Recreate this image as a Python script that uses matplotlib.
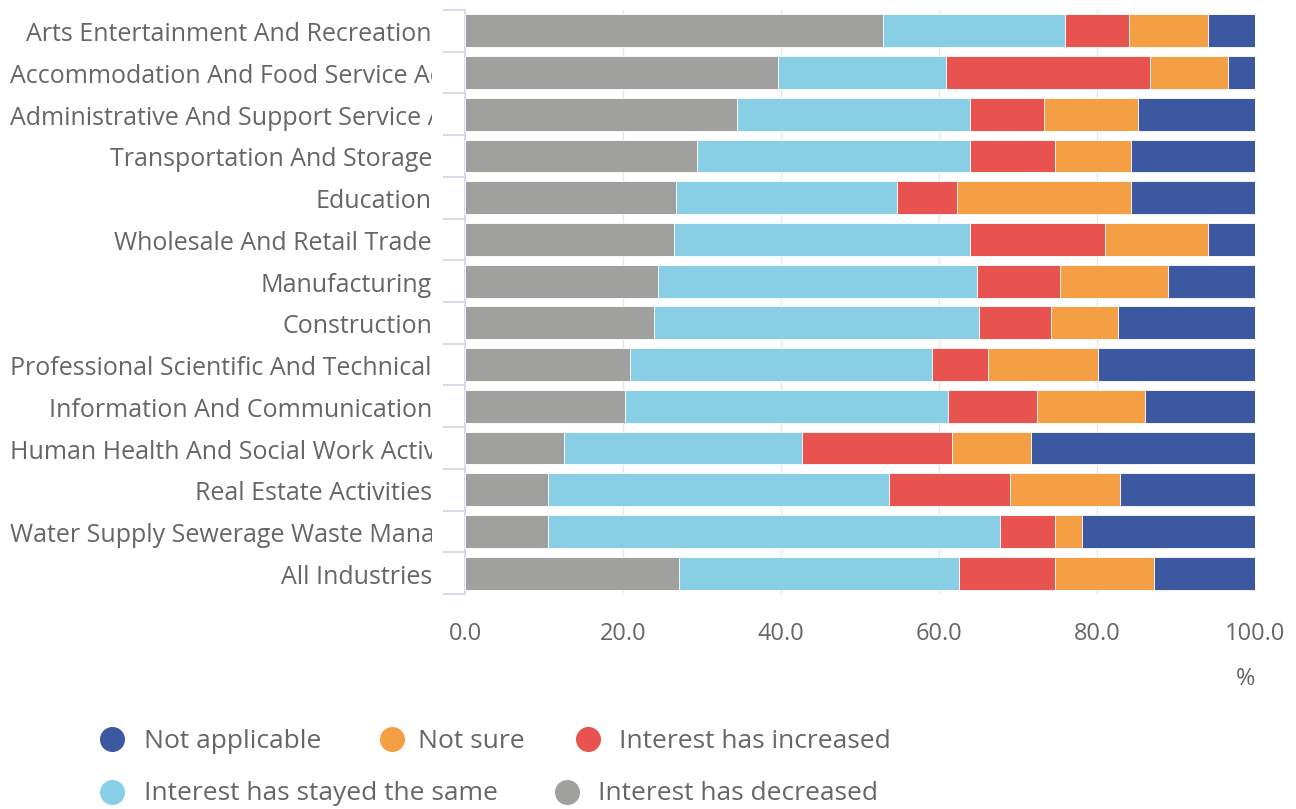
import matplotlib.pyplot as plt
from matplotlib.lines import Line2D
from matplotlib.transforms import Bbox, ScaledTranslation
import numpy as np

plt.rcParams['font.family'] = ['Open Sans', 'DejaVu Sans']

categories = [
    'Arts Entertainment And Recreation',
    'Accommodation And Food Service Activities',
    'Administrative And Support Service Activities',
    'Transportation And Storage',
    'Education',
    'Wholesale And Retail Trade',
    'Manufacturing',
    'Construction',
    'Professional Scientific And Technical',
    'Information And Communication',
    'Human Health And Social Work Activities',
    'Real Estate Activities',
    'Water Supply Sewerage Waste Management',
    'All Industries',
]

# percentages, stacked left to right
decreased = [52.9, 39.6, 34.4, 29.4, 26.7, 26.5, 24.4, 23.9, 20.9, 20.3, 12.5, 10.5, 10.5, 27.1]
same = [23.0, 21.3, 29.5, 34.5, 28.0, 37.4, 40.4, 41.2, 38.2, 40.8, 30.2, 43.2, 57.2, 35.4]
increased = [8.2, 25.8, 9.4, 10.8, 7.6, 17.1, 10.5, 9.1, 7.1, 11.3, 18.9, 15.3, 7.0, 12.2]
not_sure = [10.0, 9.9, 11.9, 9.6, 22.0, 13.1, 13.7, 8.5, 13.9, 13.7, 10.0, 13.9, 3.4, 12.5]
not_applicable = [5.9, 3.4, 14.8, 15.7, 15.7, 5.9, 11.0, 17.3, 19.9, 13.9, 28.4, 17.1, 21.9, 12.8]

series = [
    ('Interest has decreased', decreased, '#a0a09f'),
    ('Interest has stayed the same', same, '#88cfe5'),
    ('Interest has increased', increased, '#e8534f'),
    ('Not sure', not_sure, '#f59f45'),
    ('Not applicable', not_applicable, '#3b58a0'),
]

W, H = 1296, 809
fig = plt.figure(figsize=(W / 100, H / 100), dpi=100)
ax = fig.add_axes([465 / W, 1 - 594 / H, 790 / W, 584 / H])

y = np.arange(len(categories))
left = np.zeros(len(categories))
for name, vals, color in series:
    vals = np.array(vals)
    ax.barh(y, vals, left=left, height=0.79, color=color, edgecolor='white',
            linewidth=0.6, zorder=3)
    left += vals

ax.set_xlim(0, 100)
ax.set_ylim(len(categories) - 0.5, -0.5)
ax.set_xticks(np.arange(0, 101, 20))
ax.set_xticklabels([f'{v:.1f}' for v in np.arange(0, 101, 20)])
ax.tick_params(axis='x', length=0, pad=20, labelsize=17, labelcolor='#666666')
ax.grid(axis='x', color='#e6e6e6', linewidth=1, zorder=0)

ax.set_yticks(y)
ax.set_yticklabels([])
ax.set_yticks(np.arange(-0.5, len(categories)), minor=True)
ax.tick_params(axis='y', which='major', length=0)
ax.tick_params(axis='y', which='minor', length=16, width=1.2, color='#ccd6eb')
for s in ['top', 'right', 'bottom']:
    ax.spines[s].set_visible(False)
ax.spines['left'].set_color('#ccd6eb')
ax.spines['left'].set_linewidth(1.2)

ax.text(1.0, -0.145, '%', transform=ax.transAxes, ha='right', va='center',
        fontsize=17, color='#666666')

# category labels, clipped like the original when too long
label_right = -(465 - 432) / 790
label_left = -(465 - 10) / 790
shift = ScaledTranslation(0, -4 / 100, fig.dpi_scale_trans)
texts = []
for i, name in enumerate(categories):
    t = ax.text(label_right, i, name, transform=ax.get_yaxis_transform() + shift,
                ha='right', va='center', fontsize=18, color='#666666')
    texts.append(t)
fig.canvas.draw()
clip = Bbox([[10, 0], [432, H]])
for t in texts:
    bb = t.get_window_extent()
    if bb.x0 < 10:
        t.set_ha('left')
        t.set_x(label_left)
        t.set_clip_box(clip)
        t.set_clip_on(True)

# legend
legend_items = [
    ('Not applicable', '#3b58a0', 112, 144, 739),
    ('Not sure', '#f59f45', 392, 418, 739),
    ('Interest has increased', '#e8534f', 588, 619, 739),
    ('Interest has stayed the same', '#88cfe5', 112, 144, 792),
    ('Interest has decreased', '#a0a09f', 567, 598, 792),
]
for label, color, mx, tx, ty in legend_items:
    fig.add_artist(Line2D([mx / W], [1 - ty / H], marker='o', markersize=17,
                          color=color, linestyle='none', transform=fig.transFigure))
    fig.text(tx / W, 1 - (ty + 2) / H, label, ha='left', va='center', fontsize=19,
             color='#666666')

fig.savefig('out.png', dpi=100)
